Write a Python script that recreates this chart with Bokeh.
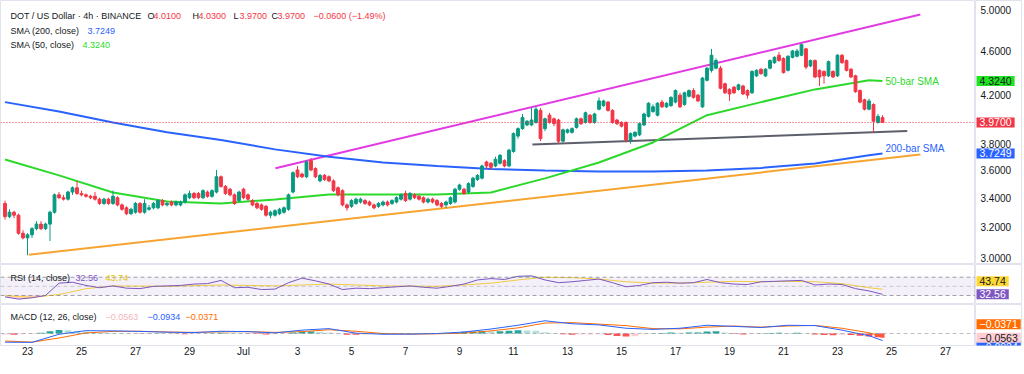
from datetime import datetime
import numpy as np
from bokeh.plotting import figure
from bokeh.models import Range1d, FixedTicker, Label, Span, BoxAnnotation, ColumnDataSource
from bokeh.layouts import column, row
from bokeh.embed import file_html
from bokeh.resources import INLINE
from bokeh.core.properties import value

# ---------------- data (DOT/USD, 4h bars, BINANCE) ----------------
first_bar = "2025-06-22 04:00"
bar_hours = 4

opens = [3.36,3.27,3.30,3.28,3.16,3.13,3.15,3.19,3.22,3.19,3.22,3.30,3.42,3.40,3.39,3.44,3.47,3.43,3.42,3.41,
         3.41,3.39,3.36,3.39,3.36,3.40,3.35,3.33,3.29,3.30,3.36,3.30,3.32,3.33,3.33,3.38,3.35,3.37,3.35,3.35,
         3.37,3.40,3.43,3.43,3.40,3.44,3.41,3.44,3.55,3.48,3.46,3.42,3.38,3.46,3.42,3.38,3.36,3.35,3.34,3.28,
         3.28,3.29,3.30,3.32,3.44,3.60,3.57,3.55,3.67,3.61,3.52,3.56,3.55,3.52,3.47,3.45,3.35,3.34,3.36,3.37,
         3.38,3.37,3.35,3.34,3.35,3.37,3.36,3.37,3.39,3.43,3.39,3.42,3.41,3.40,3.37,3.39,3.38,3.36,3.35,3.36,
         3.37,3.46,3.46,3.44,3.48,3.53,3.54,3.66,3.65,3.63,3.65,3.67,3.63,3.74,3.86,3.92,3.95,3.95,3.97,4.07,
         3.92,4.03,4.00,3.99,3.82,3.89,3.89,3.93,4.00,3.97,4.03,3.97,4.08,4.11,4.14,4.07,3.99,3.97,3.97,3.83,
         3.86,3.87,3.95,4.02,4.06,4.03,4.14,4.10,4.11,4.14,4.20,4.12,4.19,4.24,4.20,4.10,4.33,4.42,4.44,4.44,
         4.30,4.25,4.27,4.25,4.28,4.24,4.22,4.37,4.43,4.37,4.44,4.49,4.56,4.53,4.42,4.54,4.55,4.56,4.62,4.46,
         4.51,4.42,4.41,4.37,4.41,4.37,4.56,4.51,4.43,4.37,4.24,4.16,4.08,4.12,3.97,4.01]
highs = [3.38,3.32,3.31,3.29,3.18,3.16,3.20,3.24,3.24,3.23,3.31,3.43,3.44,3.42,3.45,3.48,3.52,3.45,3.43,3.42,
         3.44,3.40,3.40,3.40,3.45,3.41,3.36,3.34,3.33,3.37,3.37,3.39,3.35,3.37,3.39,3.39,3.37,3.38,3.38,3.38,
         3.43,3.45,3.44,3.44,3.46,3.45,3.46,3.60,3.56,3.49,3.47,3.43,3.45,3.47,3.43,3.39,3.37,3.36,3.35,3.31,
         3.32,3.33,3.34,3.43,3.59,3.63,3.58,3.67,3.69,3.62,3.57,3.57,3.56,3.53,3.48,3.46,3.36,3.39,3.40,3.40,
         3.39,3.38,3.36,3.37,3.38,3.38,3.39,3.41,3.43,3.45,3.44,3.43,3.42,3.41,3.40,3.40,3.39,3.37,3.38,3.41,
         3.47,3.50,3.47,3.51,3.55,3.57,3.64,3.67,3.66,3.70,3.72,3.68,3.76,3.89,3.93,4.04,3.99,4.09,4.10,4.09,
         4.01,4.05,4.01,4.00,3.92,3.92,3.93,4.01,4.01,4.06,4.04,4.05,4.18,4.16,4.15,4.08,4.00,3.98,3.98,3.89,
         3.90,3.97,4.05,4.14,4.12,4.14,4.16,4.14,4.19,4.25,4.22,4.23,4.25,4.26,4.21,4.36,4.45,4.62,4.53,4.46,
         4.31,4.26,4.28,4.30,4.29,4.25,4.42,4.43,4.44,4.44,4.52,4.55,4.59,4.54,4.56,4.61,4.62,4.67,4.63,4.52,
         4.52,4.43,4.42,4.51,4.42,4.57,4.57,4.52,4.44,4.38,4.25,4.17,4.17,4.13,4.04,4.03]
lows = [3.25,3.26,3.26,3.15,3.12,3.02,3.13,3.18,3.18,3.18,3.11,3.29,3.39,3.38,3.38,3.42,3.42,3.41,3.40,3.39,
        3.38,3.35,3.35,3.35,3.35,3.34,3.31,3.28,3.28,3.29,3.29,3.29,3.31,3.32,3.32,3.34,3.34,3.34,3.34,3.34,
        3.36,3.39,3.39,3.39,3.39,3.40,3.40,3.43,3.47,3.42,3.41,3.35,3.37,3.39,3.38,3.34,3.32,3.31,3.27,3.26,
        3.27,3.28,3.29,3.31,3.43,3.54,3.54,3.54,3.59,3.54,3.51,3.52,3.51,3.44,3.41,3.34,3.31,3.33,3.35,3.36,
        3.35,3.34,3.32,3.33,3.34,3.34,3.35,3.36,3.38,3.37,3.38,3.39,3.38,3.36,3.36,3.36,3.34,3.33,3.33,3.35,
        3.36,3.45,3.42,3.43,3.47,3.52,3.53,3.61,3.60,3.62,3.64,3.62,3.62,3.73,3.84,3.91,3.94,3.94,3.96,3.82,
        3.90,3.96,3.94,3.80,3.81,3.88,3.88,3.92,3.95,3.96,3.96,3.96,4.07,4.10,4.06,3.96,3.95,3.93,3.81,3.80,
        3.85,3.86,3.94,4.01,4.05,4.02,4.09,4.09,4.10,4.13,4.09,4.11,4.18,4.17,4.14,4.09,4.32,4.40,4.43,4.25,
        4.21,4.15,4.21,4.24,4.20,4.17,4.21,4.36,4.38,4.36,4.43,4.48,4.50,4.39,4.41,4.53,4.54,4.55,4.43,4.45,
        4.35,4.28,4.30,4.36,4.35,4.36,4.48,4.41,4.35,4.22,4.13,4.07,4.07,3.89,3.96,3.97]
closes = [3.27,3.30,3.28,3.16,3.13,3.15,3.19,3.22,3.19,3.22,3.30,3.42,3.40,3.39,3.44,3.47,3.43,3.42,3.41,3.40,
          3.39,3.36,3.39,3.36,3.41,3.35,3.32,3.29,3.32,3.36,3.30,3.36,3.33,3.36,3.38,3.35,3.36,3.35,3.37,3.37,
          3.42,3.43,3.40,3.40,3.45,3.41,3.45,3.55,3.48,3.43,3.42,3.36,3.44,3.40,3.39,3.35,3.33,3.32,3.28,3.30,
          3.31,3.32,3.33,3.42,3.58,3.55,3.55,3.66,3.60,3.55,3.56,3.53,3.52,3.45,3.42,3.35,3.33,3.38,3.39,3.39,
          3.36,3.35,3.33,3.36,3.37,3.35,3.38,3.40,3.42,3.38,3.43,3.40,3.39,3.37,3.39,3.37,3.35,3.34,3.37,3.40,
          3.46,3.49,3.43,3.50,3.54,3.56,3.63,3.63,3.62,3.68,3.71,3.63,3.75,3.88,3.92,4.01,3.98,3.99,4.08,3.84,
          4.00,3.97,3.96,3.82,3.91,3.91,3.92,4.00,3.96,4.05,3.97,4.04,4.15,4.15,4.07,3.97,3.96,3.94,3.83,3.88,
          3.89,3.96,4.04,4.13,4.10,4.13,4.10,4.13,4.18,4.24,4.10,4.22,4.24,4.18,4.15,4.35,4.44,4.56,4.51,4.26,
          4.22,4.21,4.22,4.29,4.21,4.20,4.41,4.42,4.39,4.43,4.51,4.54,4.51,4.40,4.55,4.60,4.60,4.66,4.45,4.51,
          4.36,4.36,4.37,4.50,4.36,4.56,4.49,4.42,4.36,4.23,4.14,4.08,4.15,3.98,4.02,3.97]

sma_idx = [0, 12, 24, 36, 48, 60, 72, 84, 96, 108, 120, 132, 144, 156, 168, 180, 192, 195]
sma200 = [4.14, 4.06, 3.97, 3.89, 3.83, 3.756, 3.70, 3.656, 3.63, 3.607, 3.596, 3.588, 3.588, 3.596, 3.615, 3.649, 3.71, 3.7249]
sma50 = [3.679, 3.56, 3.437, 3.374, 3.36, 3.388, 3.423, 3.423, 3.423, 3.437, 3.538, 3.656, 3.81, 4.03, 4.14, 4.25, 4.33, 4.324]

rsi_idx = list(range(0, 196, 3))
rsi = [27,22,25,30,57,59,52,47,51,46,45,50,51,52,55,56,63,47,48,43,
       44,58,68,62,55,43,46,45,47,49,51,48,46,50,55,64,67,65,72,73,
       64,58,60,63,66,58,49,52,58,59,57,58,65,58,55,54,60,61,62,63,
       53,55,54,45,40,32.56]
rsi_ma_idx = [0,6,12,18,24,36,48,60,72,84,96,102,108,114,120,126,132,138,144,150,156,162,168,174,180,186,192,195]
rsi_ma = [30,26,32,45,51,50,53,51,55,51,50,53,57,64,70,69,66,60,57,57,59,61,60,61,60,56,47,43.74]

macd_idx = list(range(0, 193, 6)) + [195]
macd_line = [-0.116,-0.118,-0.010,0.038,0.035,0.028,0.018,0.012,0.030,0.025,0.008,0.045,0.065,0.005,-0.010,-0.008,0.000,
             0.020,0.060,0.110,0.170,0.130,0.115,0.070,0.055,0.070,0.110,0.095,0.080,0.110,0.105,0.045,-0.030,-0.0934]
signal_line = [-0.100,-0.115,-0.060,0.008,0.028,0.030,0.020,0.015,0.022,0.025,0.015,0.025,0.050,0.030,0.000,-0.008,-0.004,
               0.005,0.035,0.075,0.140,0.145,0.125,0.105,0.065,0.062,0.085,0.100,0.085,0.100,0.108,0.070,0.010,-0.0371]
hist_idx = list(range(0, 195, 2)) + [195]
hist = [-0.012,-0.015,-0.010,-0.005,0.010,0.030,0.048,0.045,0.035,0.025,
        0.015,0.010,0.006,0.003,0.002,-0.002,-0.003,0.002,0.001,-0.004,
        -0.010,-0.008,-0.003,0.004,0.010,0.006,0.002,-0.003,-0.008,-0.012,
        -0.010,-0.004,0.012,0.022,0.028,0.025,0.015,0.002,-0.015,-0.018,
        -0.012,-0.008,-0.004,-0.002,0.002,0.003,0.001,-0.002,-0.003,0.004,
        0.015,0.022,0.028,0.030,0.028,0.030,0.036,0.042,0.040,0.038,
        0.018,0.008,-0.010,-0.015,-0.014,-0.012,-0.010,-0.020,-0.032,-0.040,
        -0.035,-0.010,0.005,0.008,0.012,0.010,0.012,0.015,0.028,0.030,
        0.015,-0.005,-0.012,-0.008,0.004,0.008,0.010,0.008,0.010,0.004,
        -0.012,-0.020,-0.022,-0.015,-0.020,-0.030,-0.040,-0.050,-0.0563]

# drawn trend lines: (bar index, price) endpoints
channel_top = ([60.1, 203.4], [3.613, 4.959])
support_rising = ([5.3, 203.4], [3.023, 3.716])
support_flat = ([117.2, 200.5], [3.793, 3.90])

price_ticks = [3.0, 3.2, 3.4, 3.6, 3.8, 4.2, 4.6, 5.0]
tick_dates = ["2025-06-23", "2025-06-25", "2025-06-27", "2025-06-29", "2025-07-01", "2025-07-03",
              "2025-07-05", "2025-07-07", "2025-07-09", "2025-07-11", "2025-07-13", "2025-07-15",
              "2025-07-17", "2025-07-19", "2025-07-21", "2025-07-23", "2025-07-25", "2025-07-27"]
tick_labels = ["23", "25", "27", "29", "Jul", "3", "5", "7", "9", "11", "13", "15", "17", "19", "21", "23", "25", "27"]

# ---------------- styling ----------------
FONT = "Liberation Sans"
UP, DN = "#089981", "#f23645"
TXT = "#131722"
C50, C200 = "#2bd92b", "#2962ff"
PW, SW = 975, 47           # plot frame width, price-scale width
SEP = "#e0e3eb"
XR = Range1d(-1, -1 + PW / 4.5)

t0 = datetime.strptime(first_bar, "%Y-%m-%d %H:%M")
tick_pos = [(datetime.strptime(d, "%Y-%m-%d") - t0).total_seconds() / 3600 / bar_hours for d in tick_dates]


def pane(h, yr, log=False, bottom=0):
    f = figure(width=PW, height=h, x_range=XR, y_range=yr, y_axis_type="log" if log else "linear",
               output_backend="svg", toolbar_location=None,
               min_border_left=0, min_border_right=0, min_border_top=0, min_border_bottom=bottom)
    f.grid.visible = False
    f.yaxis.visible = False
    f.outline_line_color = SEP
    f.border_fill_color = "white"
    return f


def scale(h, yr, log=False, bottom=0):
    s = figure(width=SW, height=h, x_range=Range1d(0, SW), y_range=yr, y_axis_type="log" if log else "linear",
               output_backend="svg", toolbar_location=None,
               min_border_left=0, min_border_right=0, min_border_top=0, min_border_bottom=bottom)
    s.grid.visible = False
    s.axis.visible = False
    s.outline_line_color = SEP
    s.border_fill_color = "white"
    return s


def txt(f, x_px, y_px, s, color, size="9px"):
    f.add_layout(Label(x=f.x_range.start, y=f.y_range.end, x_offset=x_px, y_offset=-y_px, text=s,
                       text_color=color, text_font=FONT, text_font_size=size,
                       text_baseline="middle", text_align="left"))


def tag(s, yval, t, bg, fg, dy=0):
    s.add_layout(Label(x=1, y=yval, x_offset=0, y_offset=dy, text=t, text_color=fg,
                       text_font=FONT, text_font_size="10.5px", text_baseline="middle",
                       text_align="left", background_fill_color=bg, padding=(3, 1)))


# ---------------- main price pane ----------------
MYR = Range1d(2.963, 5.104)
main = pane(264, MYR, log=True)
n = len(closes)
idx = list(range(n))
src = ColumnDataSource(dict(x=idx, h=highs, l=lows,
                            top=[max(o, c) for o, c in zip(opens, closes)],
                            bot=[min(o, c) for o, c in zip(opens, closes)],
                            col=[UP if c >= o else DN for o, c in zip(opens, closes)]))
main.line(channel_top[0], channel_top[1], line_color="#e339e3", line_width=2)
main.line(support_rising[0], support_rising[1], line_color="#f7a531", line_width=2)
main.line(support_flat[0], support_flat[1], line_color="#5d606b", line_width=2)
main.line(sma_idx, sma200, line_color=C200, line_width=2)
main.line(sma_idx, sma50, line_color=C50, line_width=2)
main.segment("x", "h", "x", "l", source=src, line_color="col", line_width=1)
main.vbar(x="x", top="top", bottom="bot", width=0.62, source=src, fill_color="col", line_color="col")
main.add_layout(Span(location=closes[-1], dimension="width", line_color=DN, line_dash="1 2", line_width=1))
main.add_layout(Label(x=idx[-1], y=sma50[-1], x_offset=3, text="50-bar SMA", text_color=C50,
                      text_font=FONT, text_font_size="10px", text_baseline="middle"))
main.add_layout(Label(x=idx[-1], y=sma200[-1], x_offset=3, y_offset=5, text="200-bar SMA", text_color=C200,
                      text_font=FONT, text_font_size="10px", text_baseline="middle"))
main.xaxis.visible = False

txt(main, 10, 15.5, "DOT / US Dollar · 4h · BINANCE", TXT)
for xp, s, c in [(147, "O", TXT), (153, "4.0100", DN), (192, "H", TXT), (198, "4.0300", DN),
                 (233, "L", TXT), (239, "3.9700", DN), (271, "C", TXT), (277, "3.9700", DN),
                 (313, "−0.0600 (−1.49%)", DN)]:
    txt(main, xp, 15.5, s, c)
txt(main, 10, 30.5, "SMA (200, close)", TXT)
txt(main, 87, 30.5, "3.7249", C200)
txt(main, 10, 44.5, "SMA (50, close)", TXT)
txt(main, 82, 44.5, "4.3240", C50)

ms = scale(264, MYR, log=True)
ms.text(x=[5] * len(price_ticks), y=price_ticks, text=[f"{v:.4f}" for v in price_ticks],
        text_font=value(FONT), text_font_size="10px", text_color=TXT, text_baseline="middle")
tag(ms, sma50[-1], "4.3240", "#22e322", TXT)
tag(ms, closes[-1], "3.9700", DN, "white")
tag(ms, sma200[-1], "3.7249", C200, "white")

# ---------------- RSI pane ----------------
RYR = Range1d(10.3, 97.8)
rp = pane(40, RYR)
rp.add_layout(BoxAnnotation(bottom=30, top=70, fill_color="#7e57c2", fill_alpha=0.09, line_color=None))
for lv, a in [(70, 0.7), (50, 0.35), (30, 0.7)]:
    rp.add_layout(Span(location=lv, dimension="width", line_color="#787b86", line_dash="4 3", line_alpha=a, line_width=1))
r = np.array(rsi, dtype=float)
rp.varea(rsi_idx, y1=np.full(len(r), 70.0), y2=np.maximum(r, 70), fill_color="#4caf50", fill_alpha=0.3)
rp.varea(rsi_idx, y1=np.minimum(r, 30), y2=np.full(len(r), 30.0), fill_color="#f23645", fill_alpha=0.25)
rp.line(rsi_ma_idx, rsi_ma, line_color="#fdd835", line_width=1)
rp.line(rsi_idx, rsi, line_color="#7e57c2", line_width=1)
rp.xaxis.visible = False
txt(rp, 10, 13.3, "RSI (14, close)", TXT)
txt(rp, 75, 13.3, "32.56", "#7e57c2")
txt(rp, 105, 13.3, "43.74", "#e8c400")

rs = scale(40, RYR)
tag(rs, rsi_ma[-1], "43.74", "#fdd835", TXT, dy=8)
tag(rs, rsi[-1], "32.56", "#7e57c2", "white")

# ---------------- MACD pane ----------------
DYR = Range1d(-0.16, 0.387)
mp = pane(41 + 27, DYR, bottom=27)
mp.add_layout(Span(location=0, dimension="width", line_color="#787b86", line_dash="4 3", line_alpha=0.5, line_width=1))
hcol = []
for k, v in enumerate(hist):
    pv = hist[k - 1] if k else v
    if v >= 0:
        hcol.append("#26a69a" if v >= pv else "#b2dfdb")
    else:
        hcol.append("#ffcdd2" if v >= pv else "#ff5252")
hw = [1.5] * (len(hist) - 1) + [0.9]
mp.vbar(x=hist_idx, top=hist, bottom=0, width=hw, fill_color=hcol, line_color=None)
mp.line(macd_idx, signal_line, line_color="#ff6d00", line_width=1)
mp.line(macd_idx, macd_line, line_color="#2962ff", line_width=1)
xa = mp.xaxis[0]
xa.ticker = FixedTicker(ticks=tick_pos)
xa.major_label_overrides = {p: s for p, s in zip(tick_pos, tick_labels)}
xa.major_tick_line_color = None
xa.minor_tick_line_color = None
xa.axis_line_color = None
xa.major_tick_out = 0
xa.major_tick_in = 0
xa.major_label_text_font = FONT
xa.major_label_text_font_size = "10px"
xa.major_label_text_color = TXT
xa.major_label_standoff = 0
txt(mp, 10, 12.7, "MACD (12, 26, close)", TXT)
txt(mp, 105, 12.7, "−0.0563", "#f4b6bd")
txt(mp, 147, 12.7, "−0.0934", "#2962ff")
txt(mp, 185, 12.7, "−0.0371", "#ff6d00")

mss = scale(41 + 27, DYR, bottom=27)
tag(mss, macd_line[-1], "−0.0934", "#2962ff", "white", dy=-6)
tag(mss, signal_line[-1], "−0.0371", "#ff6d00", "white", dy=12)
tag(mss, hist[-1], "−0.0563", "#ffcdd2", TXT)

layout = column(row(main, ms, spacing=0), row(rp, rs, spacing=0), row(mp, mss, spacing=0), spacing=0)
open("out.html", "w").write(file_html(layout, INLINE))
